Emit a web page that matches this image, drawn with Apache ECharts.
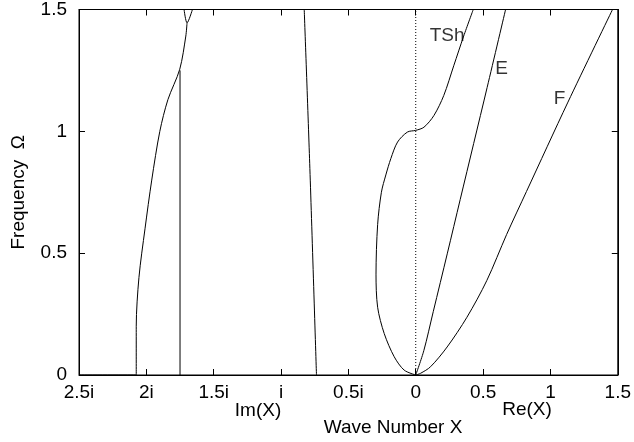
<!DOCTYPE html>
<html lang="en">
<head>
    <meta charset="UTF-8">
    <title>Dispersion curves</title>
    <script src="https://cdn.jsdelivr.net/npm/echarts@6/dist/echarts.min.js"></script>
    <style>
        html, body {
            padding: 0;
            margin: 0;
            background: #fff;
        }
        #main {
            width: 634px;
            height: 442px;
        }
    </style>
</head>
<body>
<div id="main"></div>
<script>
    // tick labels on the wave number axis (negative side is imaginary)
    var xTickValues = [-2.5, -2, -1.5, -1, -0.5, 0, 0.5, 1, 1.5];
    var xTickLabels = ['2.5i', '2i', '1.5i', 'i', '0.5i', '0', '0.5', '1', '1.5'];

    // curves, [wave number, frequency]
    var branch2i = [[-2.5, 0], [-2.075, 0], [-2.075, 0.2], [-2.055, 0.4], [-2.01, 0.6],
        [-1.96, 0.8], [-1.9, 1.0], [-1.84, 1.13], [-1.752, 1.255], [-1.707, 1.391], [-1.698, 1.445]];
    var branch2iFork = [[-1.72, 1.5], [-1.698, 1.445], [-1.658, 1.5]];
    var branchCut = [[-1.75, 0], [-1.75, 1.25]];
    var branchI = [[-0.737, 0], [-0.786, 0.848], [-0.828, 1.5]];
    var tshCurve = [[0, 0], [-0.086, 0.02], [-0.16, 0.075], [-0.234, 0.17], [-0.283, 0.278],
        [-0.295, 0.414], [-0.283, 0.617], [-0.255, 0.75], [-0.222, 0.821], [-0.185, 0.888],
        [-0.135, 0.956], [-0.062, 0.997], [0, 1.004], [0.061, 1.017], [0.135, 1.065],
        [0.208, 1.147], [0.282, 1.269], [0.356, 1.391], [0.427, 1.5]];
    var eCurve = [[0, 0], [0.06, 0.1], [0.13, 0.26], [0.235, 0.5], [0.33, 0.72],
        [0.43, 0.95], [0.53, 1.18], [0.667, 1.5]];
    var fCurve = [[0, 0], [0.036, 0.007], [0.11, 0.034], [0.233, 0.115], [0.38, 0.237],
        [0.527, 0.387], [0.675, 0.577], [0.822, 0.753], [1.13, 1.12], [1.461, 1.5]];
    var zeroLine = [[0, 0], [0, 1.5]];
    // plot frame corners
    var frame = [[-2.5, 0], [1.5, 0], [1.5, 1.5], [-2.5, 1.5], [-2.5, 0]];

    // curve names and where they sit
    var curveNames = ['TSh', 'E', 'F'];
    var curveNamePos = [[0.233, 1.392], [0.638, 1.255], [1.067, 1.133]];

    var font = 'Liberation Sans, Arial, Helvetica, sans-serif';
    var fontSize = 19;
    var black = '#000';

    function curve(data, extra) {
        var s = {
            type: 'line',
            data: data,
            symbol: 'none',
            smooth: 0.3,
            clip: true,
            lineStyle: {color: black, width: 1},
            silent: true,
            animation: false
        };
        if (extra) {
            for (var k in extra) s[k] = extra[k];
        }
        return s;
    }

    function note(text, x, y) {
        return {
            type: 'text', x: x, y: y, silent: true,
            style: {
                text: text, fontFamily: font, fontSize: fontSize, fill: black,
                align: 'center', verticalAlign: 'middle',
                textAlign: 'center', textVerticalAlign: 'middle'
            }
        };
    }

    // fresh axis object each time, ticks pointing into the plot
    function axis(min, max, position, label, extra) {
        var a = {
            type: 'value',
            min: min, max: max, interval: 0.5,
            position: position,
            axisLine: {show: true, onZero: false, lineStyle: {color: black, width: 1}},
            axisTick: {show: true, inside: true, length: 6, lineStyle: {color: black, width: 1}},
            splitLine: {show: false},
            axisLabel: label
        };
        if (extra) {
            for (var k in extra) a[k] = extra[k];
        }
        return a;
    }

    var myChart = echarts.init(document.getElementById('main'));
    myChart.setOption({
        animation: false,
        grid: {left: 79, right: 12, top: 7, bottom: 67},
        xAxis: [
            axis(-2.5, 1.5, 'bottom', {
                fontFamily: font, fontSize: fontSize, color: black, margin: 8,
                formatter: function (v) {
                    var i = xTickValues.indexOf(v);
                    return i >= 0 ? xTickLabels[i] : '';
                }
            }),
            axis(-2.5, 1.5, 'top', {show: false})
        ],
        yAxis: [
            axis(0, 1.5, 'left', {fontFamily: font, fontSize: fontSize, color: black, margin: 12}, {
                name: 'Frequency  \u03a9', nameLocation: 'middle', nameGap: 51, nameRotate: 90,
                nameTextStyle: {fontFamily: font, fontSize: fontSize, color: black}
            }),
            axis(0, 1.5, 'right', {show: false})
        ],
        graphic: [
            note('Im(X)', 258, 411),
            note('Re(X)', 527, 410),
            note('Wave Number X', 393, 428)
        ],
        series: [
            curve(frame, {smooth: false, clip: false}),
            curve(zeroLine, {smooth: false, lineStyle: {color: black, width: 1, type: [1, 2]}}),
            curve(branch2i),
            curve(branch2iFork),
            curve(branchCut, {smooth: false}),
            curve(branchI),
            curve(tshCurve),
            curve(eCurve),
            curve(fCurve),
            {
                type: 'scatter',
                symbolSize: 0,
                silent: true,
                data: curveNamePos.map(function (p, i) {
                    return {value: p, name: curveNames[i]};
                }),
                label: {
                    show: true, position: 'inside', formatter: '{b}',
                    fontFamily: font, fontSize: fontSize, color: black
                }
            }
        ]
    });
</script>
</body>
</html>
